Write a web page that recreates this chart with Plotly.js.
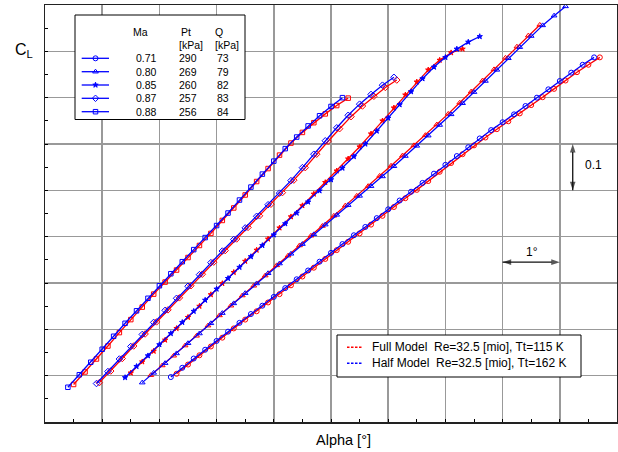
<!DOCTYPE html>
<html>
<head>
<meta charset="utf-8">
<script src="https://cdn.plot.ly/plotly-3.0.1.min.js"></script>
<style>html,body{margin:0;padding:0;background:#fff;}#chart{width:618px;height:452px;}</style>
</head>
<body>
<div id="chart"></div>
<script>
// ---- Data (alpha in deg, CL) ----
const mach = ['0.71','0.80','0.85','0.87','0.88'];
const ptKPa = [290,269,260,257,256];
const qKPa = [73,79,82,83,84];
const symbols = ['circle-open','triangle-up-open','star','diamond-open','square-open'];

// Ma 0.88
const a88B = [0.4,0.6,0.8,1.0,1.2,1.4,1.6,1.8,2.0,2.2,2.4,2.6,2.8,3.0,3.2,3.4,3.6,3.8,4.0,4.2,4.4,4.6,4.8,5.0,5.2];
const c88B = [0.075,0.102,0.129,0.157,0.185,0.213,0.240,0.267,0.294,0.320,0.346,0.372,0.398,0.424,0.451,0.479,0.507,0.535,0.563,0.590,0.615,0.639,0.661,0.681,0.700];
const a88F = [0.5,0.7,0.9,1.1,1.3,1.5,1.7,1.9,2.1,2.3,2.5,2.7,2.9,3.1,3.3,3.5,3.7,3.9,4.1,4.3,4.5,4.7,4.9,5.1,5.3];
const c88F = [0.081,0.108,0.136,0.164,0.193,0.221,0.248,0.276,0.302,0.328,0.355,0.381,0.407,0.435,0.462,0.490,0.519,0.547,0.576,0.602,0.625,0.646,0.665,0.683,0.699];
// Ma 0.87
const a87B = [0.9,1.1,1.3,1.5,1.7,1.9,2.1,2.3,2.5,2.7,2.9,3.1,3.3,3.5,3.7,3.9,4.1,4.3,4.5,4.7,4.9,5.1,5.3,5.5,5.7,5.9,6.1];
const c87B = [0.083,0.109,0.136,0.163,0.189,0.215,0.241,0.267,0.293,0.318,0.344,0.369,0.394,0.419,0.444,0.469,0.494,0.521,0.549,0.578,0.607,0.635,0.662,0.686,0.707,0.727,0.744];
const a87F = [0.95,1.15,1.35,1.55,1.75,1.95,2.15,2.35,2.55,2.75,2.95,3.15,3.35,3.55,3.75,3.95,4.15,4.35,4.55,4.75,4.95,5.15,5.35,5.55,5.75,5.95,6.15];
const c87F = [0.085,0.110,0.137,0.164,0.190,0.216,0.242,0.268,0.294,0.319,0.345,0.370,0.395,0.420,0.445,0.470,0.495,0.522,0.549,0.578,0.606,0.633,0.659,0.682,0.703,0.722,0.738];
// Ma 0.85
const a85B = [1.4,1.6,1.8,2.0,2.2,2.4,2.6,2.8,3.0,3.2,3.4,3.6,3.8,4.0,4.2,4.4,4.6,4.8,5.0,5.2,5.4,5.6,5.8,6.0,6.2,6.4,6.6,6.8,7.0,7.2,7.4,7.6];
const c85B = [0.096,0.120,0.143,0.167,0.191,0.215,0.239,0.263,0.287,0.310,0.334,0.357,0.381,0.404,0.428,0.451,0.475,0.499,0.523,0.548,0.573,0.600,0.628,0.656,0.685,0.713,0.741,0.766,0.787,0.805,0.820,0.832];
const a85F = [1.5,1.7,1.9,2.1,2.3,2.5,2.7,2.9,3.1,3.3,3.5,3.7,3.9,4.1,4.3,4.5,4.7,4.9,5.1,5.3,5.5,5.7,5.9,6.1,6.3,6.5,6.7,6.9,7.1,7.3];
const c85F = [0.106,0.130,0.153,0.177,0.202,0.226,0.250,0.275,0.299,0.323,0.347,0.371,0.395,0.419,0.443,0.467,0.492,0.517,0.542,0.568,0.594,0.622,0.650,0.678,0.706,0.734,0.760,0.781,0.797,0.805];
// Ma 0.80
const a80B = [1.7,1.9,2.1,2.3,2.5,2.7,2.9,3.1,3.3,3.5,3.7,3.9,4.1,4.3,4.5,4.7,4.9,5.1,5.3,5.5,5.7,5.9,6.1,6.3,6.5,6.7,6.9,7.1,7.3,7.5,7.7,7.9,8.1,8.3,8.5,8.7,8.9,9.1];
const c80B = [0.085,0.106,0.127,0.148,0.170,0.191,0.213,0.235,0.256,0.278,0.299,0.321,0.342,0.363,0.384,0.405,0.426,0.447,0.468,0.488,0.509,0.530,0.552,0.574,0.596,0.618,0.641,0.664,0.688,0.712,0.736,0.760,0.785,0.809,0.833,0.856,0.877,0.897];
const a80F = [1.85,2.05,2.25,2.45,2.65,2.85,3.05,3.25,3.45,3.65,3.85,4.05,4.25,4.45,4.65,4.85,5.05,5.25,5.45,5.65,5.85,6.05,6.25,6.45,6.65,6.85,7.05,7.25,7.45,7.65,7.85,8.05,8.25,8.45,8.65];
const c80F = [0.101,0.122,0.143,0.165,0.186,0.208,0.230,0.251,0.273,0.294,0.316,0.338,0.359,0.381,0.402,0.423,0.445,0.467,0.488,0.509,0.531,0.553,0.575,0.597,0.619,0.642,0.665,0.689,0.713,0.737,0.761,0.786,0.810,0.834,0.857];
// Ma 0.71
const a71B = [2.2,2.4,2.6,2.8,3.0,3.2,3.4,3.6,3.8,4.0,4.2,4.4,4.6,4.8,5.0,5.2,5.4,5.6,5.8,6.0,6.2,6.4,6.6,6.8,7.0,7.2,7.4,7.6,7.8,8.0,8.2,8.4,8.6,8.8,9.0,9.2,9.4,9.6];
const c71B = [0.097,0.117,0.137,0.156,0.175,0.195,0.214,0.233,0.251,0.270,0.289,0.308,0.327,0.346,0.365,0.384,0.403,0.421,0.440,0.459,0.478,0.497,0.516,0.536,0.555,0.574,0.593,0.612,0.630,0.647,0.664,0.682,0.700,0.718,0.736,0.754,0.771,0.787];
const a71F = [2.3,2.5,2.7,2.9,3.1,3.3,3.5,3.7,3.9,4.1,4.3,4.5,4.7,4.9,5.1,5.3,5.5,5.7,5.9,6.1,6.3,6.5,6.7,6.9,7.1,7.3,7.5,7.7,7.9,8.1,8.3,8.5,8.7,8.9,9.1,9.3,9.5,9.7];
const c71F = [0.104,0.124,0.144,0.163,0.182,0.202,0.221,0.239,0.258,0.276,0.295,0.314,0.333,0.352,0.371,0.389,0.407,0.426,0.445,0.464,0.483,0.501,0.520,0.540,0.559,0.578,0.597,0.614,0.632,0.649,0.666,0.684,0.701,0.719,0.737,0.755,0.771,0.787];

// scale-bar arrows (deg / CL)
const arrowV = {x: [9.226, 9.226], y: [0.5, 0.6]};
const arrowH = {x: [8.0, 9.0], y: [0.345, 0.345]};

const fullA = [a71F,a80F,a85F,a87F,a88F];
const fullC = [c71F,c80F,c85F,c87F,c88F];
const halfA = [a71B,a80B,a85B,a87B,a88B];
const halfC = [c71B,c80B,c85B,c87B,c88B];

const RED = '#ff0000', BLUE = '#0000ff';
const FONT = 'Liberation Sans, Arial, Helvetica, sans-serif';
const traces = [];

function mk(sym, color){
  let size = 5;
  if (sym === 'star') size = 4;
  if (sym === 'square-open') size = 4.5;
  return {symbol: sym, size: size, color: color, line: {color: color, width: 1}};
}
for (let i = 0; i < 5; i++) {
  traces.push({x: fullA[i], y: fullC[i], type: 'scatter', mode: 'lines+markers',
    line: {color: RED, width: 1.3}, marker: mk(symbols[i], RED), showlegend: false, hoverinfo: 'skip'});
}
for (let i = 0; i < 5; i++) {
  traces.push({x: halfA[i], y: halfC[i], type: 'scatter', mode: 'lines+markers',
    line: {color: BLUE, width: 1.3}, marker: mk(symbols[i], BLUE), showlegend: false, hoverinfo: 'skip'});
}

// scale arrows: shaft + arrowhead markers oriented along the shaft
function arrow(a) {
  traces.push({x: a.x, y: a.y, type: 'scatter', mode: 'lines+markers',
    line: {color: '#111', width: 1.3},
    marker: {symbol: 'arrow', angleref: 'previous', size: [0, 9], color: '#111', line: {width: 0}},
    showlegend: false, hoverinfo: 'skip'});
  traces.push({x: [a.x[1], a.x[0]], y: [a.y[1], a.y[0]], type: 'scatter', mode: 'markers',
    marker: {symbol: 'arrow', angleref: 'previous', size: [0, 9], color: '#111', line: {width: 0}},
    showlegend: false, hoverinfo: 'skip'});
}
arrow(arrowV);
arrow(arrowH);

// ---- legend boxes drawn on an overlay axis (fraction of plot area) ----
const W = 572, H = 417, L = 45, T = 5;
const px = v => (v - L) / W;
const py = v => (T + H - v) / H;

function box(x0, y0, x1, y1) {
  traces.push({x: [px(x0), px(x1), px(x1), px(x0), px(x0)], y: [py(y0), py(y0), py(y1), py(y1), py(y0)],
    xaxis: 'x2', yaxis: 'y2', type: 'scatter', mode: 'lines', fill: 'toself', fillcolor: '#fff',
    line: {color: '#000', width: 1}, showlegend: false, hoverinfo: 'skip'});
}
box(75, 15, 245, 119.5);
box(337, 335, 581, 377);

const rowY = [58.3, 71.7, 85, 98.3, 111.7];
for (let i = 0; i < 5; i++) {
  traces.push({x: [px(81.7), px(109)], y: [py(rowY[i]), py(rowY[i])],
    xaxis: 'x2', yaxis: 'y2', type: 'scatter', mode: 'lines',
    line: {color: BLUE, width: 1.3}, showlegend: false, hoverinfo: 'skip'});
  traces.push({x: [px(95.5)], y: [py(rowY[i])], xaxis: 'x2', yaxis: 'y2', type: 'scatter', mode: 'markers',
    marker: mk(symbols[i], BLUE), showlegend: false, hoverinfo: 'skip'});
}
// model legend samples
const modelY = [347.3, 363.3];
const modelColor = [RED, BLUE];
const modelText = ['Full Model  Re=32.5 [mio], Tt=115 K', 'Half Model  Re=32.5 [mio], Tt=162 K'];
for (let i = 0; i < 2; i++) {
  traces.push({x: [px(347), px(362)], y: [py(modelY[i]), py(modelY[i])], xaxis: 'x2', yaxis: 'y2',
    type: 'scatter', mode: 'lines', line: {color: modelColor[i], width: 1.5, dash: '2.5px,1.5px'},
    showlegend: false, hoverinfo: 'skip'});
}

const ann = [];
const tf = s => ({family: FONT, size: s, color: '#000'});
function txt(text, x, y, size, anchor) {
  ann.push({text: text, xref: 'paper', yref: 'paper', x: px(x), y: py(y), xanchor: anchor || 'center',
    yanchor: 'middle', showarrow: false, font: tf(size)});
}
txt('Ma', 140, 32, 10.5);
txt('Pt', 186, 32, 10.5);
txt('[kPa]', 190.5, 45, 10.5);
txt('Q', 219, 32, 10.5);
txt('[kPa]', 226.5, 45, 10.5);
for (let i = 0; i < 5; i++) {
  txt(mach[i], 146, rowY[i], 10.5);
  txt(String(ptKPa[i]), 188, rowY[i], 10.5);
  txt(String(qKPa[i]), 223, rowY[i], 10.5);
}
for (let i = 0; i < 2; i++) txt(modelText[i], 370, modelY[i], 12, 'left');
txt('0.1', 593, 165, 12);
txt('1°', 531.7, 251.7, 12);
txt('Alpha [°]', 343, 440, 14.5);
ann.push({text: 'C<sub>L</sub>', xref: 'paper', yref: 'paper', x: px(13), y: py(50), xanchor: 'left',
  yanchor: 'middle', showarrow: false, font: tf(16)});

const axBase = {showticklabels: false, showgrid: true, gridcolor: '#999999', gridwidth: 1.5,
  showline: true, linecolor: '#222', linewidth: 1.5, mirror: true, ticks: 'inside', ticklen: 3,
  tickcolor: '#000', zeroline: false, fixedrange: true};
const layout = {
  width: 618, height: 452, margin: {l: 45, r: 1, t: 5, b: 30}, paper_bgcolor: '#fff', plot_bgcolor: '#fff',
  font: {family: FONT, size: 12, color: '#000'}, showlegend: false,
  xaxis: Object.assign({}, axBase, {range: [0, 10], dtick: 1, tick0: 0,
    minor: {dtick: 0.5, ticks: 'inside', ticklen: 3, tickcolor: '#000', showgrid: false}}),
  yaxis: Object.assign({}, axBase, {range: [0, 0.9], dtick: 0.1, tick0: 0,
    minor: {dtick: 0.05, ticks: 'inside', ticklen: 3, tickcolor: '#000', showgrid: false}}),
  xaxis2: {overlaying: 'x', range: [0, 1], visible: false, fixedrange: true},
  yaxis2: {overlaying: 'y', range: [0, 1], visible: false, fixedrange: true},
  annotations: ann
};
Plotly.newPlot('chart', traces, layout, {staticPlot: true, displayModeBar: false});
</script>
</body>
</html>
